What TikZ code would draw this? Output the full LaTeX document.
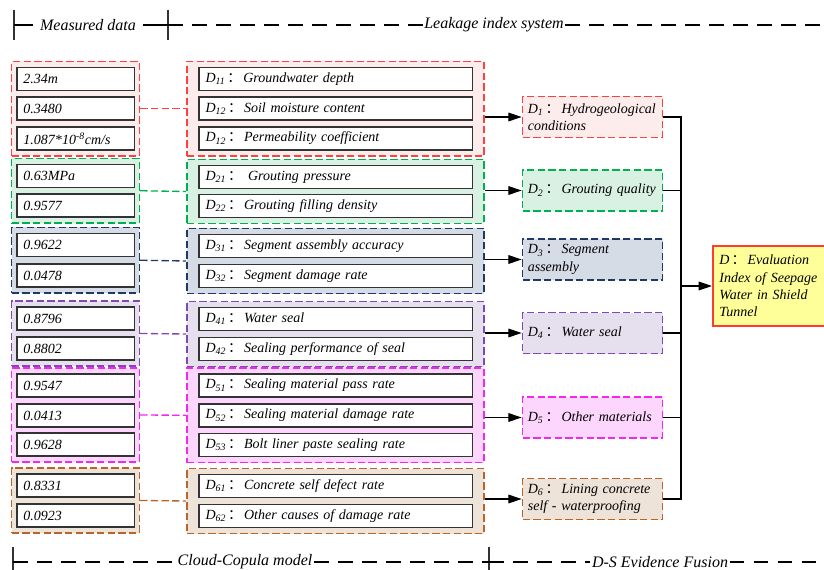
\documentclass[tikz,border=0pt]{standalone}
\usepackage{fontspec}
\setmainfont{Liberation Serif}
\newfontfamily\cjk{Noto Sans CJK SC}
\usetikzlibrary{arrows.meta,fit,backgrounds}

\definecolor{hydroline}{RGB}{255,64,64}
\definecolor{hydrofill}{RGB}{253,236,236}
\definecolor{groutline}{RGB}{0,176,80}
\definecolor{groutfill}{RGB}{216,241,226}
\definecolor{segline}{RGB}{31,56,100}
\definecolor{segfill}{RGB}{214,220,229}
\definecolor{sealline}{RGB}{128,72,180}
\definecolor{sealfill}{RGB}{230,224,238}
\definecolor{matline}{RGB}{240,40,240}
\definecolor{matfill}{RGB}{253,214,253}
\definecolor{liningline}{RGB}{185,100,40}
\definecolor{liningfill}{RGB}{237,227,216}
\definecolor{evalline}{RGB}{255,60,50}
\definecolor{evalfill}{RGB}{255,255,153}

\newcommand{\cc}{\kern1.5pt{\cjk ：}\kern1.5pt}
\newcommand{\Dx}[1]{D\textsubscript{#1}}

\tikzset{
	txt/.style={font=\fontsize{10.5}{13}\selectfont\itshape, execute at begin node={\hyphenpenalty=10000 }},
	val/.style={txt, draw=black!80, line width=1pt, fill=white, text width=78pt, align=left,
		inner xsep=5pt, inner ysep=0pt, minimum height=17.25pt},
	idx/.style={val, text width=195pt},
	grpdash/.style={dash pattern=on 5.5pt off 2.5pt},
	grp/.style={draw=#1line, fill=#1fill, grpdash, line width=1.2pt, inner xsep=3.4pt, inner ysep=4pt},
	link/.style={draw=#1line, grpdash, line width=1pt},
	crit/.style={txt, draw=#1line, fill=#1fill, grpdash, line width=1.2pt, text width=97pt, align=left,
		inner xsep=4pt, minimum height=30.75pt},
	arr/.style={-{Triangle[length=10pt,width=6.5pt]}, line width=0.8pt},
	wire/.style={line width=0.8pt},
	hdrtext/.style={font=\fontsize{12}{14}\selectfont\itshape, inner xsep=1pt},
	hdrdash/.style={line width=1pt, dash pattern=on 11pt off 7pt},
	tick/.style={line width=1pt, black!80}
}

\begin{document}
\begin{tikzpicture}[x=0.75pt, y=-0.75pt]
	\useasboundingbox (0,0) rectangle (824,570);
	\clip (0,0) rectangle (824,570);

	% headers
	\coordinate (tl) at (14,25);
	\coordinate (tm) at (168,25);
	\coordinate (tr) at (830,25);
	\node[hdrtext, inner xsep=5pt] (mdata) at (88,25) {Measured data};
	\node[hdrtext] (leak) at (494,25) {Leakage index system};
	\draw[tick] (14,10) -- (14,40);
	\draw[tick] (168,10) -- (168,40);
	\draw[line width=1pt] (tl) -- (mdata.west);
	\draw[line width=1pt] (mdata.east) -- (tm);
	\draw[hdrdash] (tm) -- (leak.west);
	\draw[hdrdash] (leak.east) -- (tr);

	\coordinate (bl) at (13,562);
	\coordinate (bm) at (489,562);
	\coordinate (br) at (830,562);
	\node[hdrtext] (cloud) at (245,562) {Cloud-Copula model};
	\node[hdrtext] (dsf) at (660,562) {D-S Evidence Fusion};
	\draw[tick] (13,547) -- (13,575);
	\draw[tick] (489,547) -- (489,575);
	\draw[hdrdash] (bl) -- (cloud.west);
	\draw[hdrdash] (cloud.east) -- (bm);
	\draw[hdrdash] (bm) -- (dsf.west);
	\draw[hdrdash] (dsf.east) -- (br);

	% measured data
	\node[val] (v11) at (75.5,79) {2.34m};
	\node[val] (v12) at (75.5,108.5) {0.3480};
	\node[val] (v13) at (75.5,138.5) {1.087*10\textsuperscript{-8}cm/s};
	\node[val] (v21) at (75.5,176) {0.63MPa};
	\node[val] (v22) at (75.5,205.5) {0.9577};
	\node[val] (v31) at (75.5,245) {0.9622};
	\node[val] (v32) at (75.5,275.5) {0.0478};
	\node[val] (v41) at (75.5,318.5) {0.8796};
	\node[val] (v42) at (75.5,348.5) {0.8802};
	\node[val] (v51) at (75.5,385.5) {0.9547};
	\node[val] (v52) at (75.5,415.5) {0.0413};
	\node[val] (v53) at (75.5,444.5) {0.9628};
	\node[val] (v61) at (75.5,485.5) {0.8331};
	\node[val] (v62) at (75.5,515.5) {0.0923};

	% index system
	\node[idx] (i11) at (335.5,79) {\Dx{11}\cc Groundwater depth};
	\node[idx] (i12) at (335.5,108.5) {\Dx{12}\cc Soil moisture content};
	\node[idx] (i13) at (335.5,138.5) {\Dx{12}\cc Permeability coefficient};
	\node[idx] (i21) at (335.5,177) {\Dx{21}\cc\hspace{3pt}Grouting pressure};
	\node[idx] (i22) at (335.5,206) {\Dx{22}\cc Grouting filling density};
	\node[idx] (i31) at (335.5,246) {\Dx{31}\cc Segment assembly accuracy};
	\node[idx] (i32) at (335.5,276) {\Dx{32}\cc Segment damage rate};
	\node[idx] (i41) at (335.5,319) {\Dx{41}\cc Water seal};
	\node[idx] (i42) at (335.5,349) {\Dx{42}\cc Sealing performance of seal};
	\node[idx] (i51) at (335.5,385.5) {\Dx{51}\cc Sealing material pass rate};
	\node[idx] (i52) at (335.5,415.5) {\Dx{52}\cc Sealing material damage rate};
	\node[idx] (i53) at (335.5,445) {\Dx{53}\cc Bolt liner paste sealing rate};
	\node[idx] (i61) at (335.5,486) {\Dx{61}\cc Concrete self defect rate};
	\node[idx] (i62) at (335.5,516) {\Dx{62}\cc Other causes of damage rate};

	\begin{scope}[on background layer]
		\node[grp=hydro, fit=(v11)(v13)] (g1v) {};
		\node[grp=grout, fit=(v21)(v22)] (g2v) {};
		\node[grp=seg, fit=(v31)(v32)] (g3v) {};
		\node[grp=seal, fit=(v41)(v42)] (g4v) {};
		\node[grp=mat, fit=(v51)(v53)] (g5v) {};
		\node[grp=lining, fit=(v61)(v62)] (g6v) {};
		\node[grp=hydro, fit=(i11)(i13), inner xsep=8.5pt] (g1i) {};
		\node[grp=grout, fit=(i21)(i22), inner xsep=8.5pt] (g2i) {};
		\node[grp=seg, fit=(i31)(i32), inner xsep=8.5pt] (g3i) {};
		\node[grp=seal, fit=(i41)(i42), inner xsep=8.5pt] (g4i) {};
		\node[grp=mat, fit=(i51)(i53), inner xsep=8.5pt] (g5i) {};
		\node[grp=lining, fit=(i61)(i62), inner xsep=8.5pt] (g6i) {};
	\end{scope}

	\draw[link=hydro] (g1v.east) -- (g1i.west);
	\draw[link=grout] (g2v.east) -- (g2i.west);
	\draw[link=seg] (g3v.east) -- (g3i.west);
	\draw[link=seal] (g4v.east) -- (g4i.west);
	\draw[link=mat] (g5v.east) -- (g5i.west);
	\draw[link=lining] (g6v.east) -- (g6i.west);

	% criteria
	\node[crit=hydro] (d1) at (592.5,117) {\Dx{1}\cc Hydrogeological\\conditions};
	\node[crit=grout] (d2) at (592.5,190.5) {\Dx{2}\cc Grouting quality};
	\node[crit=seg] (d3) at (592.5,259.5) {\Dx{3}\cc Segment\\assembly};
	\node[crit=seal] (d4) at (592.5,333) {\Dx{4}\cc Water seal};
	\node[crit=mat] (d5) at (592.5,417.5) {\Dx{5}\cc Other materials};
	\node[crit=lining] (d6) at (592.5,499) {\Dx{6}\cc Lining concrete\\self - waterproofing};

	\draw[arr] (g1i.east |- d1) -- (d1);
	\draw[arr] (g2i.east |- d2) -- (d2);
	\draw[arr] (g3i.east |- d3) -- (d3);
	\draw[arr] (g4i.east |- d4) -- (d4);
	\draw[arr] (g5i.east |- d5) -- (d5);
	\draw[arr] (g6i.east |- d6) -- (d6);

	% evaluation
	\node[txt, draw=evalline, fill=evalfill, line width=1.2pt, text width=85pt, align=left,
		inner xsep=5pt, minimum height=60pt, anchor=west] (eval) at (712,286)
		{D\cc Evaluation\\Index of Seepage\\Water in Shield\\Tunnel};

	\coordinate (bus) at (681,286);
	\draw[wire] (d1.east) -| (bus |- d6.east) -- (d6.east);
	\draw[wire] (d2.east) -- (d2.east -| bus);
	\draw[wire] (d4.east) -- (d4.east -| bus);
	\draw[wire] (d5.east) -- (d5.east -| bus);
	\draw[arr] (bus) -- (eval);
\end{tikzpicture}
\end{document}
